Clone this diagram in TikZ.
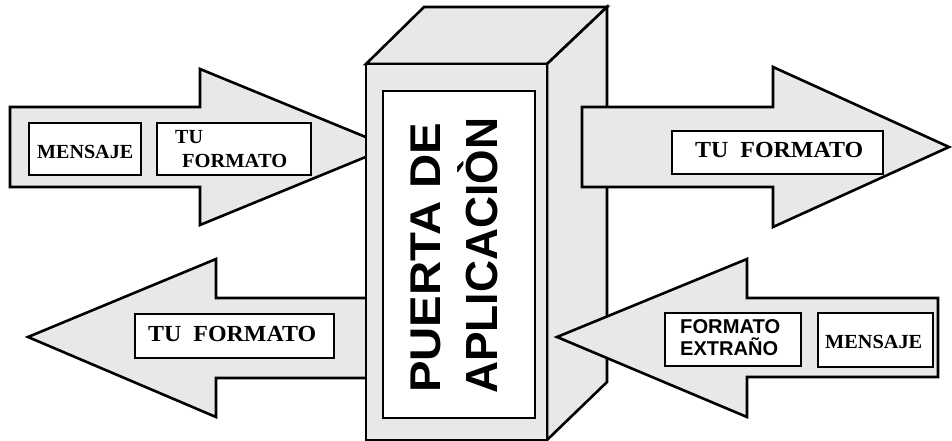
\documentclass[tikz,border=0pt]{standalone}
\usepackage{fontspec}
\usepackage{graphicx}
\setmainfont{Liberation Serif}
\setsansfont{Liberation Sans}
\definecolor{stip}{gray}{0.91}
\newcommand{\wfit}[2]{\resizebox{#1}{\height}{#2}}
\tikzset{
  outline/.style={draw=black, line width=2.6pt, line join=miter, fill=stip},
  labelbox/.style={draw=black, line width=2.2pt, fill=white, inner sep=0pt, anchor=north west},
  serifword/.style={font=\fontsize{20}{24}\selectfont\bfseries, inner sep=0pt, anchor=base west},
  serifbig/.style={font=\fontsize{23}{27}\selectfont\bfseries, inner sep=0pt, anchor=base west},
  sansword/.style={font=\fontsize{20}{24}\selectfont\sffamily\bfseries, inner sep=0pt, anchor=base west},
  gatetext/.style={font=\fontsize{#1}{#1}\selectfont\sffamily\bfseries, inner sep=0pt, anchor=base west, rotate=90},
}
\begin{document}
\begin{tikzpicture}[x=1pt, y=-1pt]
\useasboundingbox (0,0) rectangle (952,441);

% incoming arrow, upper left (runs behind the gate)
\draw[outline] (10,107) -- (200,107) -- (200,69) -- (390,147) -- (200,225) -- (200,187) -- (10,187) -- cycle;
\node[labelbox, minimum width=112pt, minimum height=52pt] (msgA) at (28,122) {};
\node[serifword] (msgAtxt) at (37,158) {\wfit{96pt}{MENSAJE}};
\node[labelbox, minimum width=154pt, minimum height=52pt] (fmtA) at (156,122) {};
\node[serifword] (fmtAtu) at (175,143) {TU};
\node[serifword] (fmtAfo) at (182,167) {\wfit{105pt}{FORMATO}};

% outgoing arrow, lower left (runs behind the gate)
\draw[outline] (28,337) -- (216,259) -- (216,298) -- (390,298) -- (390,378) -- (216,378) -- (216,417) -- cycle;
\node[labelbox, minimum width=199pt, minimum height=44pt] (fmtC) at (134,313) {};
\node[serifbig] (fmtCtxt) at (148,341) {\wfit{168pt}{TU\hspace{0.5em}FORMATO}};

% the gate: a box seen in perspective
\draw[outline] (366,64) -- (424,7) -- (607,7) -- (547,64) -- cycle;
\draw[outline] (547,64) -- (607,7) -- (607,382) -- (547,440) -- cycle;
\draw[outline] (366,64) rectangle (547,440);
\node[labelbox, minimum width=152pt, minimum height=327pt] (gate) at (382,90) {};
\node[gatetext=43] (gateA) at (440,393) {\wfit{270pt}{PUERTA DE}};
\node[gatetext=45] (gateB) at (497,394) {\wfit{276pt}{APLICACIÒN}};

% outgoing arrow, upper right (over the gate's side)
\draw[outline] (582,107) -- (773,107) -- (773,67) -- (949,147) -- (773,227) -- (773,187) -- (582,187) -- cycle;
\node[labelbox, minimum width=211pt, minimum height=43pt] (fmtB) at (671,130) {};
\node[serifbig] (fmtBtxt) at (695,157) {\wfit{168pt}{TU\hspace{0.5em}FORMATO}};

% incoming arrow, lower right (over the gate's side)
\draw[outline] (557,337) -- (747,259) -- (747,298) -- (938,298) -- (938,377) -- (747,377) -- (747,417) -- cycle;
\node[labelbox, minimum width=136pt, minimum height=53pt] (fmtD) at (664,312) {};
\node[sansword] (fmtDa) at (680,333) {\wfit{100pt}{FORMATO}};
\node[sansword] (fmtDb) at (680,355) {\wfit{98pt}{EXTRAÑO}};
\node[labelbox, minimum width=115pt, minimum height=54pt] (msgD) at (817,312) {};
\node[serifword] (msgDtxt) at (825,348) {\wfit{97pt}{MENSAJE}};
\end{tikzpicture}
\end{document}
